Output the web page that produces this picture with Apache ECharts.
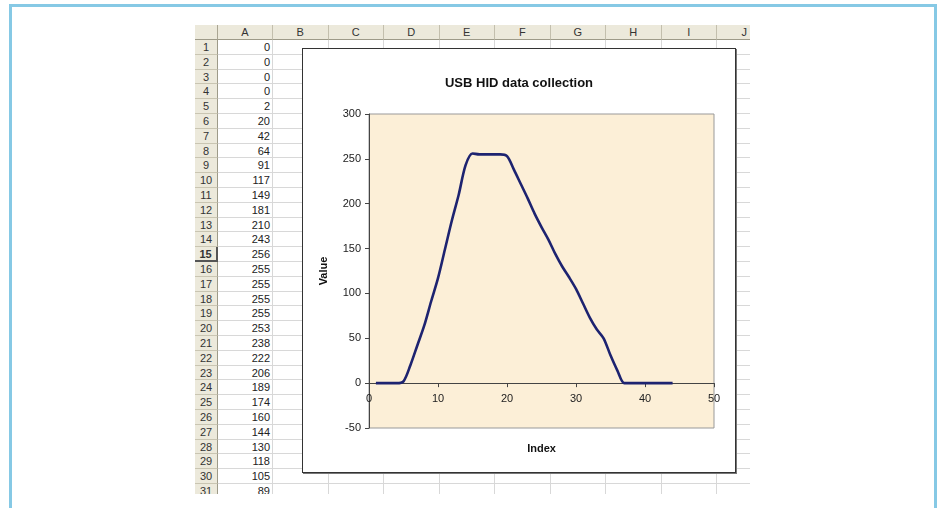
<!DOCTYPE html>
<html>
<head>
<meta charset="utf-8">
<script src="https://cdn.jsdelivr.net/npm/echarts@6/dist/echarts.min.js"></script>
<style>
  html, body { margin: 0; padding: 0; background: #fff; }
  #page { position: relative; width: 939px; height: 508px; overflow: hidden; background: #fff;
          font-family: "Liberation Sans", Arial, sans-serif; }
  #frame { position: absolute; left: 9px; top: 4px; width: 922px; height: 520px;
           border: 3px solid #86c9e5; border-bottom: none; }
  #sheet { position: absolute; left: 195px; top: 25px; width: 555px; height: 469px; overflow: hidden; }
  .ln { position: absolute; background: #d8d8d8; }
  .hd { position: absolute; background: #ece9db; color: #333; font-size: 11px; text-align: center;
        box-sizing: border-box; line-height: 14px; }
  .val { position: absolute; font-size: 11px; color: #222; text-align: right; box-sizing: border-box;
         padding-right: 3px; line-height: 14px; }
  #box { position: absolute; left: 302px; top: 48px; width: 432px; height: 423px;
         border: 1px solid #333; background: #fff; box-shadow: 1px 1px 0 #777; }
  #chart { width: 432px; height: 423px; }
</style>
</head>
<body>
<div id="page">
  <div id="frame"></div>
  <div id="sheet"></div>
  <div id="box"><div id="chart"></div></div>
</div>
<script>
// data (column A of the sheet)
const indexValues = [1, 2, 3, 4, 5, 6, 7, 8, 9, 10, 11, 12, 13, 14, 15, 16, 17, 18, 19, 20, 21, 22,
  23, 24, 25, 26, 27, 28, 29, 30, 31, 32, 33, 34, 35, 36, 37, 38, 39, 40, 41, 42, 43, 44];
const dataValues = [0, 0, 0, 0, 2, 20, 42, 64, 91, 117, 149, 181, 210, 243, 256, 255, 255, 255, 255, 253,
  238, 222, 206, 189, 174, 160, 144, 130, 118, 105, 89, 73, 60, 50, 31, 14, 0, 0, 0, 0, 0, 0, 0, 0];
const columnLetters = ['A', 'B', 'C', 'D', 'E', 'F', 'G', 'H', 'I', 'J'];
const visibleRows = 31;

// spreadsheet behind the chart
const sheet = document.getElementById('sheet');
const colEdges = [0, 23, 78, 133.5, 189, 244.5, 300, 355.5, 411, 466.5, 522, 577.5];
const headH = 15, rowH = 14.8;

function add(cls, css, text) {
  const d = document.createElement('div');
  d.className = cls;
  Object.assign(d.style, css);
  if (text !== undefined) d.textContent = text;
  sheet.appendChild(d);
  return d;
}

// grid lines
for (let i = 2; i < colEdges.length; i++) {
  add('ln', { left: (colEdges[i] - 1) + 'px', top: '0px', width: '1px', height: '469px' });
}
for (let r = 1; r <= visibleRows; r++) {
  add('ln', { left: '0px', top: (headH + r * rowH - 1) + 'px', width: '555px', height: '1px' });
}

// column headers
add('hd', { left: '0px', top: '0px', width: '23px', height: headH + 'px',
  borderRight: '1px solid #a9a592', borderBottom: '1px solid #9d9a88' });
columnLetters.forEach((c, i) => {
  add('hd', { left: colEdges[i + 1] + 'px', top: '0px', width: (colEdges[i + 2] - colEdges[i + 1]) + 'px',
    height: headH + 'px', borderRight: '1px solid #c3bfad', borderBottom: '1px solid #9d9a88' }, c);
});

// row headers + column A values
for (let r = 1; r <= visibleRows; r++) {
  const top = headH + (r - 1) * rowH;
  const h = add('hd', { left: '0px', top: top + 'px', width: '23px', height: rowH + 'px',
    borderRight: '1px solid #9d9a88', borderBottom: '1px solid #c9c5b2' }, String(r));
  if (r === 15) {
    h.style.borderRight = '2px solid #555';
    h.style.borderBottom = '2px solid #555';
    h.style.fontWeight = 'bold';
  }
  add('val', { left: colEdges[1] + 'px', top: top + 'px', width: (colEdges[2] - colEdges[1]) + 'px',
    height: rowH + 'px' }, String(dataValues[r - 1]));
}

// chart
const chart = echarts.init(document.getElementById('chart'));
const font = '"Liberation Sans", Arial, sans-serif';
const plotH = 423 - 65 - 44; // px for the y range -50..300

chart.setOption({
  animation: false,
  backgroundColor: '#fff',
  title: {
    text: 'USB HID data collection',
    left: 'center',
    top: 23,
    textStyle: { fontSize: 13, fontWeight: 'bold', color: '#111', fontFamily: font }
  },
  grid: {
    left: 66, top: 65, right: 21, bottom: 44,
    containLabel: false,
    outerBoundsMode: 'none',
    show: true,
    backgroundColor: '#fcefd7',
    borderColor: '#999',
    borderWidth: 1
  },
  xAxis: {
    type: 'value',
    min: 0, max: 50, interval: 10,
    position: 'bottom',
    offset: -plotH * 50 / 350,
    name: 'Index',
    nameLocation: 'middle',
    nameGap: 60,
    nameTextStyle: { fontSize: 11, fontWeight: 'bold', color: '#111', fontFamily: font },
    axisLine: { onZero: false, lineStyle: { color: '#444', width: 1 } },
    axisTick: { show: true, length: 4, lineStyle: { color: '#444' } },
    axisLabel: { margin: 10, fontSize: 11, color: '#222', fontFamily: font },
    splitLine: { show: false }
  },
  yAxis: {
    type: 'value',
    min: -50, max: 300, interval: 50,
    name: 'Value',
    nameLocation: 'middle',
    nameRotate: 90,
    nameGap: 40,
    nameTextStyle: { fontSize: 11, fontWeight: 'bold', color: '#111', fontFamily: font },
    axisLine: { show: true, onZero: false, lineStyle: { color: '#444', width: 1 } },
    axisTick: { show: true, length: 4, lineStyle: { color: '#444' } },
    axisLabel: { margin: 8, fontSize: 11, color: '#222', fontFamily: font },
    splitLine: { show: false }
  },
  series: [{
    type: 'line',
    data: indexValues.map((x, i) => [x, dataValues[i]]),
    smooth: 0.3,
    showSymbol: false,
    lineStyle: { color: '#1d2370', width: 2.6 }
  }]
});
</script>
</body>
</html>
